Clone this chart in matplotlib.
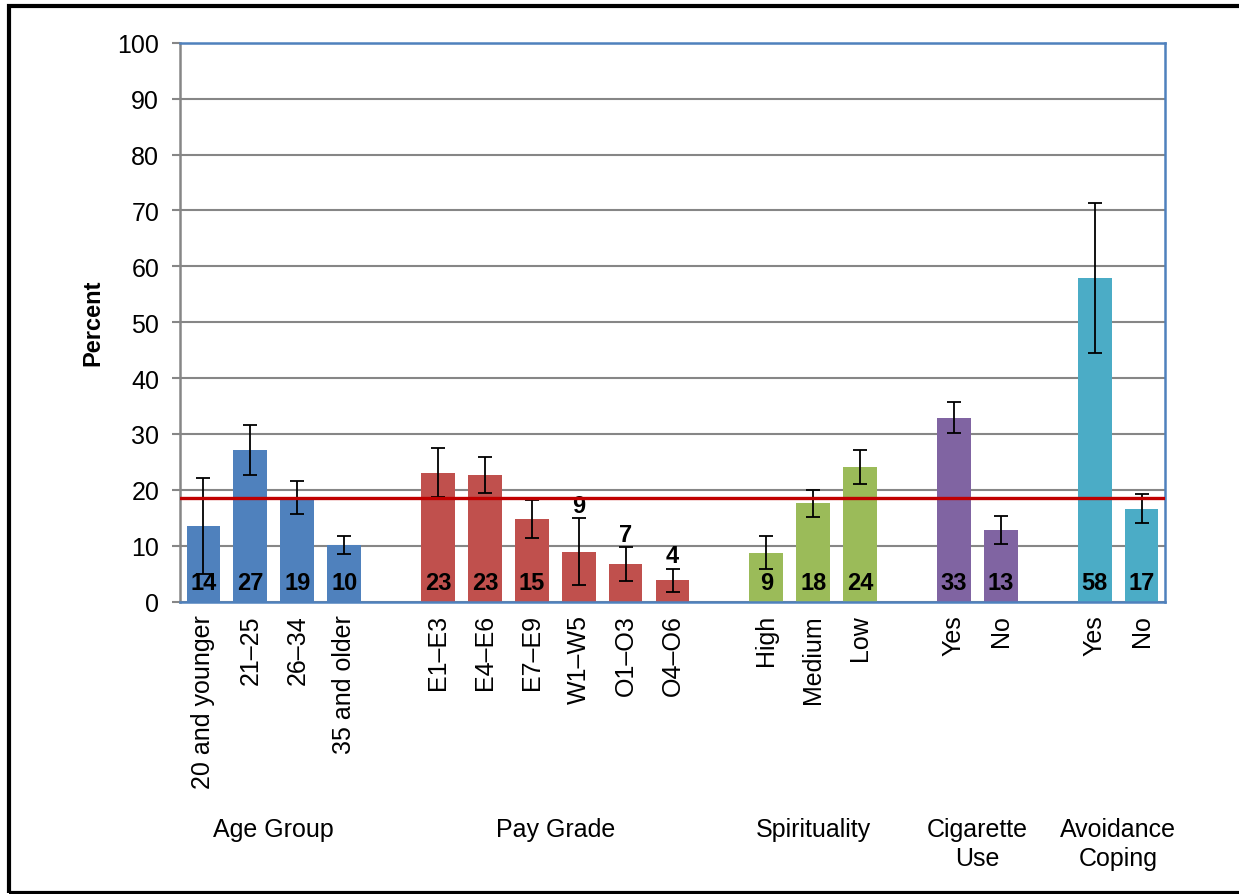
import matplotlib
matplotlib.use("Agg")
import matplotlib.pyplot as plt
from matplotlib.patches import Rectangle

plt.rcParams['font.family'] = ['Liberation Sans', 'DejaVu Sans']

# groups shown along the x axis, in order
groups = ["Age Group", "Pay Grade", "Spirituality", "Cigarette\nUse", "Avoidance\nCoping"]
group_colors = ["#4F81BD", "#C0504D", "#9BBB59", "#8064A2", "#4BACC6"]

age_labels = ["20 and younger", "21\u201325", "26\u201334", "35 and older"]
age_values = [13.5, 27.1, 18.6, 10.2]
age_errors = [8.6, 4.5, 3.0, 1.6]

pay_labels = ["E1\u2013E3", "E4\u2013E6", "E7\u2013E9", "W1\u2013W5", "O1\u2013O3", "O4\u2013O6"]
pay_values = [23.1, 22.6, 14.8, 8.9, 6.7, 3.8]
pay_errors = [4.4, 3.2, 3.4, 6.0, 3.0, 2.1]

spirit_labels = ["High", "Medium", "Low"]
spirit_values = [8.8, 17.6, 24.1]
spirit_errors = [3.0, 2.4, 3.0]

cig_labels = ["Yes", "No"]
cig_values = [32.9, 12.9]
cig_errors = [2.8, 2.5]

avoid_labels = ["Yes", "No"]
avoid_values = [57.9, 16.6]
avoid_errors = [13.4, 2.6]

# overall rate drawn as a reference line
overall = 18.5

# bars whose value label sits above the error bar
labels_above = {"W1\u2013W5", "O1\u2013O3", "O4\u2013O6"}

all_labels = [age_labels, pay_labels, spirit_labels, cig_labels, avoid_labels]
all_values = [age_values, pay_values, spirit_values, cig_values, avoid_values]
all_errors = [age_errors, pay_errors, spirit_errors, cig_errors, avoid_errors]

fig = plt.figure(figsize=(12.39, 8.95), dpi=100)
ax = fig.add_axes([180 / 1239, 1 - 602.7 / 895, 985 / 1239, 559 / 895])

pos = 0
tick_pos = []
tick_text = []
for g, name in enumerate(groups):
    xs = list(range(pos, pos + len(all_values[g])))
    ax.bar(xs, all_values[g], width=0.72, color=group_colors[g], zorder=3)
    ax.errorbar(xs, all_values[g], yerr=all_errors[g], fmt="none", ecolor="black",
                elinewidth=1.3, capsize=5, capthick=1.3, zorder=4)
    for x, lab, v, e in zip(xs, all_labels[g], all_values[g], all_errors[g]):
        txt = "%d" % int(v + 0.5)
        if lab in labels_above and g == 1:
            ax.text(x, v + e + 1.2, txt, ha="center", va="baseline",
                    fontsize=17, fontweight="bold", zorder=5)
        else:
            ax.text(x, 2.2, txt, ha="center", va="baseline",
                    fontsize=17, fontweight="bold", zorder=5)
    tick_pos += xs
    tick_text += all_labels[g]
    ax.text(sum(xs) / len(xs), -0.385, name, transform=ax.get_xaxis_transform(),
            ha="center", va="top", fontsize=18, linespacing=1.25)
    pos += len(xs) + 1

ax.axhline(overall, color="#C00000", lw=2.4, zorder=6)

ax.set_xlim(-0.5, pos - 1.5)
ax.set_ylim(0, 100)
ax.set_yticks(range(0, 101, 10))
ax.set_xticks(tick_pos)
ax.set_xticklabels(tick_text, rotation=90, ha="center", va="top", fontsize=18)
ax.tick_params(axis="x", length=0, pad=9)
ax.tick_params(axis="y", labelsize=18, length=6, width=1.5, color="#868686", pad=9)
ax.grid(axis="y", color="#868686", lw=1.5, zorder=1)

for side in ["top", "right", "bottom"]:
    ax.spines[side].set_color("#4F81BD")
    ax.spines[side].set_linewidth(1.8)
ax.spines["left"].set_color("#868686")
ax.spines["left"].set_linewidth(1.8)
ax.spines["bottom"].set_zorder(7)

fig.text(93 / 1239, 1 - 323 / 895, "Percent", rotation=90, ha="center", va="center",
         fontsize=17, fontweight="bold")

# frame around the whole figure
fig.patches.append(Rectangle((9 / 1239, 1.5 / 895), 1.1, 886.5 / 895, transform=fig.transFigure,
                             fill=False, ec="black", lw=3))

fig.savefig("out.png", dpi=100)
